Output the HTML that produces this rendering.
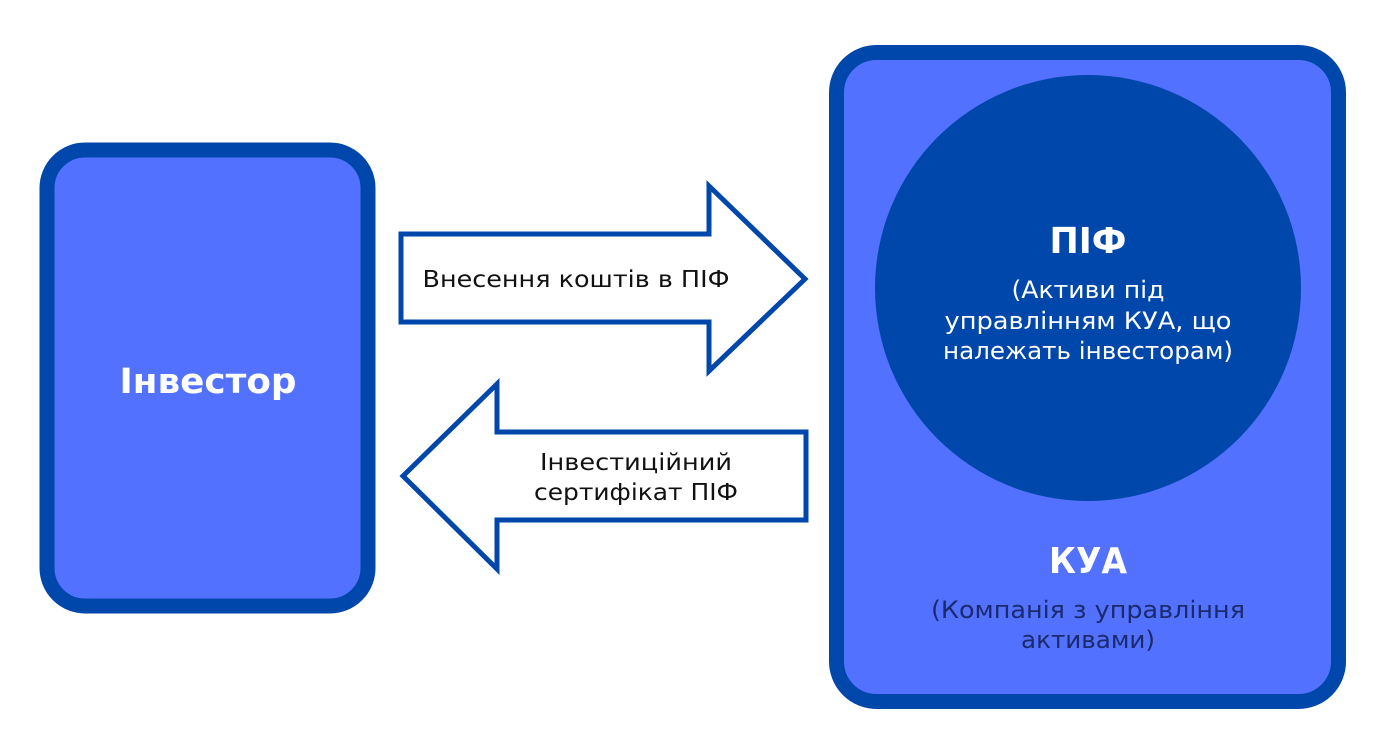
<!DOCTYPE html>
<html><head><meta charset="utf-8"><style>
html,body{margin:0;padding:0;background:#fff;width:1395px;height:756px;overflow:hidden;font-family:"DejaVu Sans",sans-serif}
</style></head><body>
<svg width="1395" height="756" viewBox="0 0 1395 756" xmlns="http://www.w3.org/2000/svg" font-family="DejaVu Sans, sans-serif">
<rect x="47" y="150" width="321" height="456" rx="38" fill="#5271ff" stroke="#0047ab" stroke-width="15"/>
<text x="208" y="393" text-anchor="middle" font-size="35" font-weight="bold" fill="#fff" textLength="177" lengthAdjust="spacingAndGlyphs">Інвестор</text>
<rect x="836.5" y="52.5" width="502" height="649" rx="40" fill="#5271ff" stroke="#0047ab" stroke-width="15"/>
<circle cx="1088" cy="288" r="213" fill="#0047ab"/>
<text x="1088" y="253" text-anchor="middle" font-size="36" font-weight="bold" fill="#fff" textLength="77" lengthAdjust="spacingAndGlyphs">ПІФ</text>
<g font-size="24" fill="#fff" text-anchor="middle">
<text x="1088" y="298" textLength="153" lengthAdjust="spacingAndGlyphs">(Активи під</text>
<text x="1088" y="329" textLength="287" lengthAdjust="spacingAndGlyphs">управлінням КУА, що</text>
<text x="1088" y="359" textLength="290" lengthAdjust="spacingAndGlyphs">належать інвесторам)</text>
</g>
<text x="1088" y="573" text-anchor="middle" font-size="36" font-weight="bold" fill="#fff" textLength="78" lengthAdjust="spacingAndGlyphs">КУА</text>
<g font-size="24" fill="#1a2a6c" text-anchor="middle">
<text x="1088" y="618" textLength="314" lengthAdjust="spacingAndGlyphs">(Компанія з управління</text>
<text x="1088" y="648" textLength="134" lengthAdjust="spacingAndGlyphs">активами)</text>
</g>
<polygon points="401,234 709,234 709,186 805,279 709,371 709,322 401,322" fill="#fff" stroke="#0047ab" stroke-width="5"/>
<text x="576" y="287" text-anchor="middle" font-size="23" fill="#111" textLength="307" lengthAdjust="spacingAndGlyphs">Внесення коштів в ПІФ</text>
<polygon points="806,432 497,432 497,384 403,476 497,569 497,520 806,520" fill="#fff" stroke="#0047ab" stroke-width="5"/>
<g font-size="23" fill="#111" text-anchor="middle">
<text x="636" y="470" textLength="192" lengthAdjust="spacingAndGlyphs">Інвестиційний</text>
<text x="636" y="500" textLength="204" lengthAdjust="spacingAndGlyphs">сертифікат ПІФ</text>
</g>
</svg>
</body></html>
